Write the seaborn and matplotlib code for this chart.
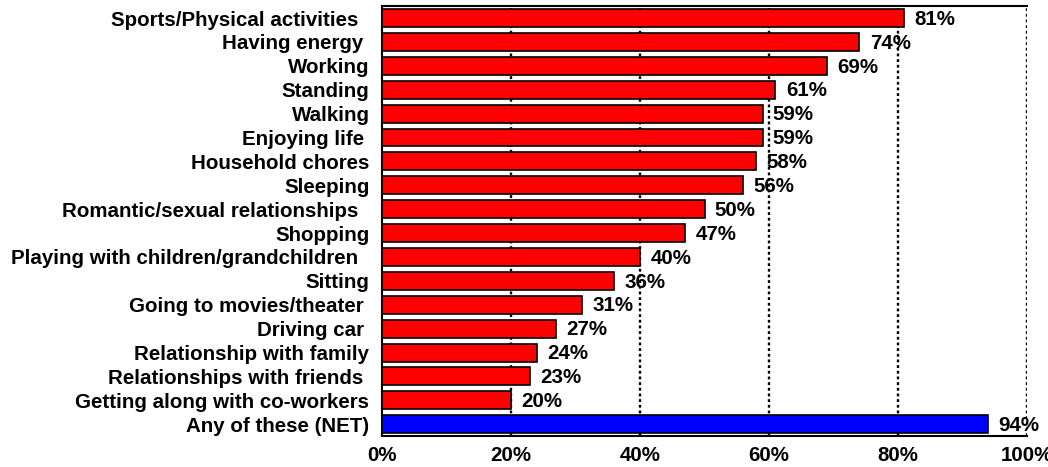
import seaborn as sns
import matplotlib.pyplot as plt
import numpy as np
import pandas as pd

categories = [
    "Sports/Physical activities  ",
    "Having energy ",
    "Working",
    "Standing",
    "Walking",
    "Enjoying life ",
    "Household chores",
    "Sleeping",
    "Romantic/sexual relationships  ",
    "Shopping",
    "Playing with children/grandchildren  ",
    "Sitting",
    "Going to movies/theater ",
    "Driving car ",
    "Relationship with family",
    "Relationships with friends ",
    "Getting along with co-workers",
    "Any of these (NET)",
]
values = [81, 74, 69, 61, 59, 59, 58, 56, 50, 47, 40, 36, 31, 27, 24, 23, 20, 94]
colors = ["#ff0000"] * 17 + ["#0000ff"]

df = pd.DataFrame({"category": categories, "value": values})

sns.set_style("white")
plt.rcParams["font.family"] = ["Liberation Sans", "DejaVu Sans"]
plt.rcParams["font.weight"] = "bold"
plt.rcParams["text.color"] = "black"
plt.rcParams["xtick.labelcolor"] = "black"
plt.rcParams["ytick.labelcolor"] = "black"

fig = plt.figure(figsize=(10.48, 4.67), dpi=100)
ax = fig.add_axes([0.3645, 0.066, 0.6155, 0.921])

sns.barplot(
    data=df, x="value", y="category", hue="category",
    palette=colors, saturation=1, legend=False, orient="h",
    width=0.75, edgecolor="black", linewidth=1.2, ax=ax, zorder=3,
)

fs = 14.8
ax.set_xlim(0, 100)
ax.set_ylim(len(categories) - 0.5, -0.5)
ticks = [0, 20, 40, 60, 80, 100]
ax.set_xticks(ticks)
ax.set_xticklabels([f"{t}%" for t in ticks], fontsize=fs, fontweight="bold")
ax.tick_params(axis="x", length=4, width=1.2, direction="in", pad=7, colors="black")
ax.tick_params(axis="y", length=0, pad=9)
for lbl in ax.get_yticklabels():
    lbl.set_fontsize(fs)
    lbl.set_fontweight("bold")
    lbl.set_color("black")
ax.set_yticks(np.arange(len(categories)) + 0.5, minor=True)
ax.tick_params(axis="y", which="minor", length=5, width=1.5, color="#888888", direction="in")

for x in [20, 40, 60, 80, 100]:
    ax.axvline(x, color="black", linestyle=(0, (1.2, 1.2)), linewidth=1.7, zorder=1)

for spine in ["left", "top", "bottom"]:
    ax.spines[spine].set_visible(True)
    ax.spines[spine].set_color("black")
    ax.spines[spine].set_linewidth(1.5)
ax.spines["right"].set_visible(False)

for i, v in enumerate(values):
    ax.text(v + 1.6, i + 0.05, f"{v}%", va="center", ha="left",
            fontsize=fs, fontweight="bold", color="black", zorder=4)

ax.set_xlabel("")
ax.set_ylabel("")
plt.savefig("out.png", dpi=100)
plt.close()
